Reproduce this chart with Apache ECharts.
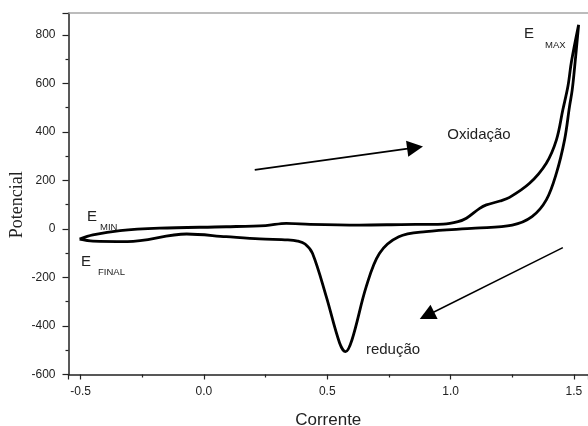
<!DOCTYPE html>
<html>
<head>
<meta charset="utf-8">
<script src="https://cdn.jsdelivr.net/npm/echarts@6/dist/echarts.min.js"></script>
<style>
html,body{margin:0;padding:0;background:#fff;}
#chart{width:588px;height:426px;}
</style>
</head>
<body>
<div id="chart"></div>
<script>
// Forward scan (E_MIN -> E_MAX): [Corrente, Potencial]
const forwardX = [-0.504, -0.45, -0.34, -0.18, 0.09, 0.25, 0.334, 0.43, 0.63, 0.80, 0.97, 1.03, 1.064, 1.118, 1.145, 1.20, 1.239, 1.32, 1.388, 1.429, 1.455, 1.476, 1.49, 1.519];
const forwardY = [-42, -25, -7, 3, 9, 14, 23, 19, 16, 18, 20, 30, 44, 85, 99, 115, 130, 188, 271, 367, 491, 590, 690, 841];
// Reverse scan (E_MAX -> E_FINAL)
const reverseX = [1.519, 1.503, 1.493, 1.482, 1.462, 1.429, 1.388, 1.33, 1.25, 1.10, 0.90, 0.79, 0.712, 0.658, 0.60, 0.574, 0.55, 0.496, 0.44, 0.41, 0.38, 0.34, 0.226, 0.09, -0.07, -0.31, -0.45, -0.504];
const reverseY = [841, 669, 573, 504, 367, 230, 120, 51, 16, 3, -11, -32, -100, -238, -458, -506, -470, -279, -100, -62, -50, -45, -41, -32, -21, -52, -50, -42];
// Annotation arrows: [startX, startY, endX, endY]
const arrowOx = [0.206, 243, 0.856, 335];
const arrowRed = [1.455, -77, 0.904, -357];
// Axis settings
const xMin = -0.549, xMax = 1.557;
const yMin = -600, yMax = 890, yInterval = 200;

const loop = [];
forwardX.forEach((x, i) => loop.push([x, forwardY[i]]));
reverseX.slice(1).forEach((x, i) => loop.push([x, reverseY[i + 1]]));

const FONT = 'Liberation Sans, Arial, sans-serif';
const chart = echarts.init(document.getElementById('chart'), null, {renderer: 'canvas'});
chart.setOption({
  animation: false,
  backgroundColor: '#fff',
  grid: {left: 68.5, right: 0, top: 13, bottom: 51.5, containLabel: false, outerBoundsMode: 'none'},
  xAxis: [{
    type: 'value', min: xMin, max: xMax, splitNumber: 4,
    position: 'bottom',
    name: 'Corrente', nameLocation: 'middle', nameGap: 37,
    nameTextStyle: {fontFamily: FONT, fontSize: 17, color: '#222'},
    axisLine: {show: true, onZero: false, lineStyle: {color: '#222', width: 1.5}},
    axisTick: {show: true, length: 5, lineStyle: {color: '#222', width: 1.2}},
    minorTick: {show: true, splitNumber: 2, length: 3, lineStyle: {color: '#222', width: 1.2}},
    axisLabel: {showMinLabel: false, showMaxLabel: false, fontFamily: FONT, fontSize: 12, color: '#222', margin: 11,
      formatter: v => v.toFixed(1)},
    splitLine: {show: false}
  }, {
    type: 'value', min: xMin, max: xMax, position: 'top',
    axisLine: {show: true, onZero: false, lineStyle: {color: '#a6a6a6', width: 1.5}},
    axisTick: {show: false}, axisLabel: {show: false}, splitLine: {show: false}
  }],
  yAxis: {
    type: 'value', min: yMin, max: yMax, interval: yInterval,
    position: 'left',
    name: 'Potencial', nameLocation: 'middle', nameGap: 42, nameMoveOverlap: false,
    nameTextStyle: {fontFamily: 'Liberation Serif, Times New Roman, serif', fontSize: 18, color: '#222', padding: [0, 22, 0, 0]},
    axisLine: {show: true, onZero: false, lineStyle: {color: '#222', width: 1.5}},
    axisTick: {show: true, length: 6, lineStyle: {color: '#222', width: 1.2}},
    minorTick: {show: true, splitNumber: 2, length: 3, lineStyle: {color: '#222', width: 1.2}},
    axisLabel: {showMaxLabel: false, fontFamily: FONT, fontSize: 12, color: '#222', margin: 13},
    splitLine: {show: false}
  },
  series: [{
    type: 'line',
    data: loop,
    smooth: 0.35,
    showSymbol: false,
    lineStyle: {color: '#000', width: 2.8},
    markLine: {
      silent: true,
      symbol: ['none', 'triangle'],
      symbolSize: 16,
      label: {show: false},
      data: [
        [{coord: [arrowOx[0], arrowOx[1]], lineStyle: {width: 1.8}}, {coord: [arrowOx[2], arrowOx[3]]}],
        [{coord: [arrowRed[0], arrowRed[1]], lineStyle: {width: 1.5}}, {coord: [arrowRed[2], arrowRed[3]]}]
      ],
      lineStyle: {color: '#000', type: 'solid', width: 1.6}
    }
  }],
  graphic: [
    {type: 'text', x: 524, y: 34, style: {text: 'E', font: '15px ' + FONT, fill: '#222', verticalAlign: 'middle'}},
    {type: 'text', x: 545, y: 45, style: {text: 'MAX', font: '9.5px ' + FONT, fill: '#222', verticalAlign: 'middle'}},
    {type: 'text', x: 87, y: 217, style: {text: 'E', font: '15px ' + FONT, fill: '#222', verticalAlign: 'middle'}},
    {type: 'text', x: 100, y: 227, style: {text: 'MIN', font: '9.5px ' + FONT, fill: '#222', verticalAlign: 'middle'}},
    {type: 'text', x: 81, y: 262, style: {text: 'E', font: '15px ' + FONT, fill: '#222', verticalAlign: 'middle'}},
    {type: 'text', x: 98, y: 272, style: {text: 'FINAL', font: '9.5px ' + FONT, fill: '#222', verticalAlign: 'middle'}},
    {type: 'text', x: 479, y: 135, style: {text: 'Oxidação', font: '15px ' + FONT, fill: '#222', align: 'center', verticalAlign: 'middle'}},
    {type: 'text', x: 393, y: 350, style: {text: 'redução', font: '15px ' + FONT, fill: '#222', align: 'center', verticalAlign: 'middle'}}
  ]
});
</script>
</body>
</html>
